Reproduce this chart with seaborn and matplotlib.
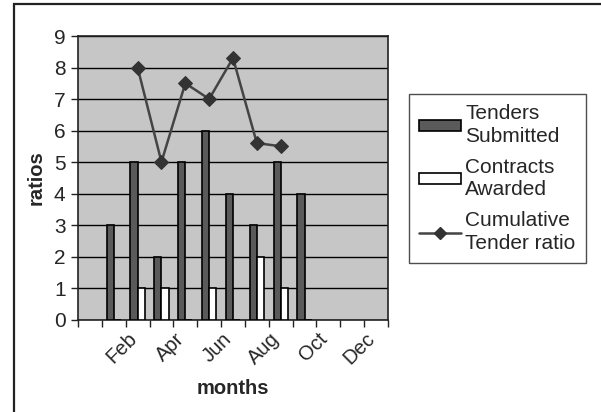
import numpy as np
import pandas as pd
import matplotlib
matplotlib.use("Agg")
import matplotlib.pyplot as plt
from matplotlib.patches import Rectangle, Patch
from matplotlib.lines import Line2D
import seaborn as sns

# ----------------------
# Data
# ----------------------
MONTHS = ["", "Jan", "Feb", "Mar", "Apr", "May", "Jun",
          "Jul", "Aug", "Sep", "Oct", "Nov", "Dec"]
TENDERS = [np.nan, 3, 5, 2, 5, 6, 4, 3, 5, 4, np.nan, np.nan, np.nan]
CONTRACTS = [np.nan, 0, 1, 1, 0, 1, 0, 2, 1, 0, np.nan, np.nan, np.nan]
RATIO_MONTHS = ["Feb", "Mar", "Apr", "May", "Jun", "Jul", "Aug"]
RATIO = [8, 5, 7.5, 7, 8.3, 5.6, 5.5]

SERIES = ["Tenders Submitted", "Contracts Awarded"]

# ----------------------
# Style
# ----------------------
sns.set_style("white")
plt.rcParams["font.family"] = ["Liberation Sans", "DejaVu Sans"]

DARK = "#5a5a5a"
FACE = "#c6c6c6"

df = pd.DataFrame({
    "month": MONTHS * 2,
    "series": [SERIES[0]] * len(MONTHS) + [SERIES[1]] * len(MONTHS),
    "value": TENDERS + CONTRACTS,
})

fig = plt.figure(figsize=(6.01, 4.12), dpi=100)
ax = fig.add_axes([78 / 601, 1 - 319.5 / 412, 310 / 601, 283.5 / 412])
ax.set_facecolor(FACE)

sns.barplot(data=df, x="month", y="value", hue="series", order=MONTHS,
            hue_order=SERIES, palette=[DARK, "white"], width=0.6, gap=0,
            errorbar=None, legend=False, zorder=3, ax=ax)
for p in ax.patches:
    p.set_edgecolor("black")
    p.set_linewidth(1.2)

line_x = [MONTHS.index(m) for m in RATIO_MONTHS]
sns.lineplot(x=line_x, y=RATIO, color="#444444", linewidth=1.8,
             marker="D", markersize=7.5, markeredgecolor="#333333",
             markerfacecolor="#333333", zorder=4, ax=ax)

# axes
ax.set_xlim(-0.5, len(MONTHS) - 0.5)
ax.set_ylim(0, 9)
ax.set_yticks(range(0, 10))
ax.yaxis.grid(True, color="black", linewidth=1)
ax.set_axisbelow(True)
for s in ax.spines.values():
    s.set_color("#222222")
    s.set_linewidth(1.2)

# every other month labelled; rotated labels end a little left of the centre
label_pos = np.arange(0, len(MONTHS), 2) - 0.45
ax.set_xticks(label_pos)
ax.set_xticklabels(MONTHS[::2], rotation=45, ha="right",
                   rotation_mode="anchor", fontsize=14.5)
ax.set_xticks(np.arange(-0.5, len(MONTHS), 1), minor=True)
ax.tick_params(axis="x", which="major", length=0, pad=7)
ax.tick_params(axis="x", which="minor", length=5, width=1, direction="out",
               color="#222222", bottom=True)
ax.tick_params(axis="y", length=5, width=1, direction="out",
               color="#222222", labelsize=15, left=True, pad=4)

ax.set_xlabel("months", fontsize=14.5, fontweight="bold", labelpad=8)
ax.set_ylabel("ratios", fontsize=14.5, fontweight="bold", labelpad=6)

# legend
handles = [
    Patch(facecolor=DARK, edgecolor="black", linewidth=1.2),
    Patch(facecolor="white", edgecolor="black", linewidth=1.2),
    Line2D([0], [0], color="#444444", linewidth=1.8, marker="D",
           markersize=6.5, markerfacecolor="#333333", markeredgecolor="#333333"),
]
labels = ["Tenders\nSubmitted", "Contracts\nAwarded", "Cumulative\nTender ratio"]
leg = fig.legend(handles, labels, loc="upper left",
                 bbox_to_anchor=(409 / 601, 1 - 94 / 412), fontsize=15,
                 frameon=True, fancybox=False, edgecolor="#222222",
                 handlelength=2.0, handleheight=0.45, handletextpad=0.2,
                 borderpad=0.5, labelspacing=0.55, borderaxespad=0)
for t in leg.get_texts():
    t.set_linespacing(1.25)
leg.get_frame().set_linewidth(1)

# outer chart frame
fig.patches.append(Rectangle((13.5 / 601, -0.2), 2, 1 - 4 / 412 + 0.2,
                             transform=fig.transFigure, fill=False,
                             edgecolor="#222222", linewidth=1.6))

fig.savefig("out.png", dpi=100)
